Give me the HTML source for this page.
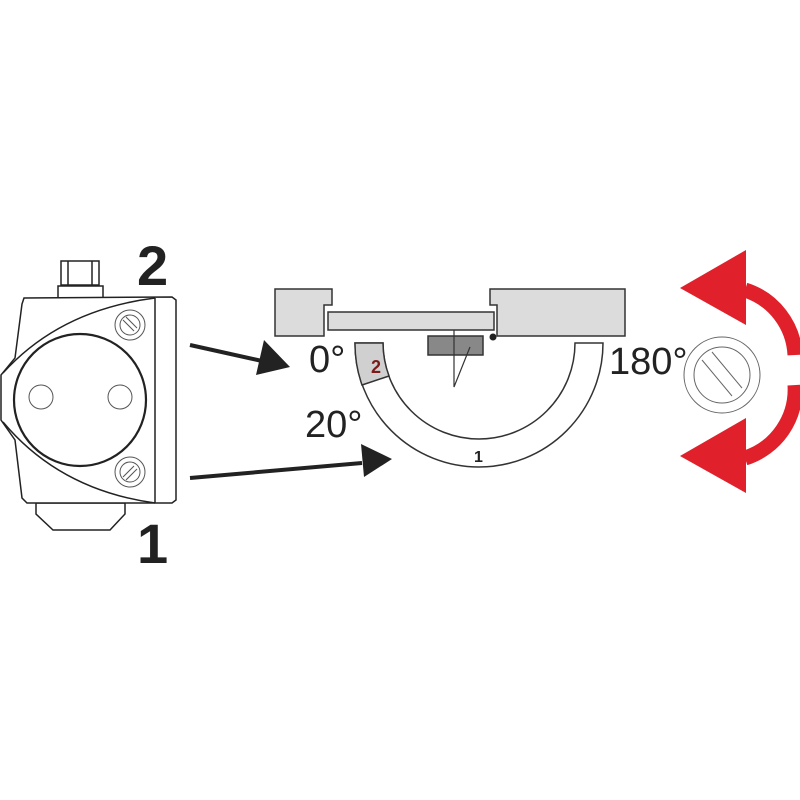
<!DOCTYPE html>
<html><head><style>body{margin:0;background:#fff}svg{display:block}</style></head><body>
<svg width="800" height="800" viewBox="0 0 800 800" xmlns="http://www.w3.org/2000/svg" font-family="Liberation Sans, sans-serif">
<!-- device -->
<g fill="#fff" stroke="#222" stroke-width="1.5">
<rect x="61" y="261" width="38" height="24"/>
<line x1="68" y1="261" x2="68" y2="285"/><line x1="92" y1="261" x2="92" y2="285"/>
<path d="M58 298 L58 286 L103 286 L103 298 Z"/>
<path d="M36 503 L125 503 L125 514 L110 530 L53 530 L36 514 Z"/>
<path d="M24 298 L172 297 L176 300 L176 500 L172 503 L27 503 L22 498 L15 440 L1 420 L1 375 L15 358 L22 304 Z"/>
<line x1="155" y1="298" x2="155" y2="503"/>
<path d="M155 298 Q60 310 3 373" fill="none"/>
<path d="M3 422 Q60 490 155 503" fill="none"/>
<circle cx="80" cy="400" r="66" stroke-width="2.2"/>
</g>
<g fill="none" stroke="#555" stroke-width="1">
<circle cx="41" cy="397" r="12"/><circle cx="120" cy="397" r="12"/>
<circle cx="130" cy="325" r="15"/><circle cx="130" cy="325" r="10"/>
<line x1="123" y1="320" x2="134" y2="331"/><line x1="126" y1="317" x2="137" y2="328"/>
<circle cx="130" cy="472" r="15"/><circle cx="130" cy="472" r="10"/>
<line x1="123" y1="477" x2="134" y2="466"/><line x1="126" y1="480" x2="137" y2="469"/>
</g>
<text x="137" y="285" font-size="56" font-weight="bold" fill="#222">2</text>
<text x="137" y="563" font-size="56" font-weight="bold" fill="#222">1</text>
<!-- arrows -->
<g fill="#222" stroke="#222">
<line x1="190" y1="345" x2="262" y2="361" stroke-width="4"/>
<polygon points="290,367 256,375 264,340" stroke="none"/>
<line x1="190" y1="478" x2="362" y2="463" stroke-width="4"/>
<polygon points="392,459 364,477 361,444" stroke="none"/>
</g>
<!-- middle -->
<g stroke="#333" stroke-width="1.5">
<path d="M275 289 L332 289 L332 305 L324 305 L324 336 L275 336 Z" fill="#dcdcdc"/>
<path d="M490 289 L625 289 L625 336 L497 336 L497 305 L490 305 Z" fill="#dcdcdc"/>
<rect x="328" y="312" width="166" height="18" fill="#dcdcdc"/>
<rect x="428" y="336" width="55" height="19" fill="#888"/>
<path d="M454 330 L454 387 L470 347" fill="none" stroke-width="1.2"/>
<path d="M355 343 A124 124 0 0 0 603 343 L575 343 A96 96 0 0 1 383 343 Z" fill="#fff"/>
<path d="M355 343 A124 124 0 0 0 362 385 L389 376 A96 96 0 0 1 383 343 Z" fill="#d0d0d0"/>
</g>
<circle cx="493" cy="337" r="3.5" fill="#222"/>
<text x="371" y="373" font-size="18" font-weight="bold" fill="#7a1a1a">2</text>
<text x="474" y="462" font-size="16" font-weight="bold" fill="#222">1</text>
<text x="309" y="372" font-size="38" fill="#222">0°</text>
<text x="609" y="374" font-size="38" fill="#222">180°</text>
<text x="305" y="437" font-size="38" fill="#222">20°</text>
<!-- right -->
<g fill="none" stroke="#666" stroke-width="1">
<circle cx="722" cy="375" r="38"/><circle cx="722" cy="375" r="28"/>
<line x1="702" y1="360" x2="732" y2="396"/><line x1="712" y1="352" x2="742" y2="388"/>
</g>
<g fill="#e0202a">
<path d="M745 290 A72 72 0 0 1 795 355" fill="none" stroke="#e0202a" stroke-width="15"/>
<path d="M795 385 A72 72 0 0 1 745 458" fill="none" stroke="#e0202a" stroke-width="15"/>
<polygon points="680,288 746,250 746,325"/>
<polygon points="680,456 746,418 746,493"/>
</g>
</svg>
</body></html>
